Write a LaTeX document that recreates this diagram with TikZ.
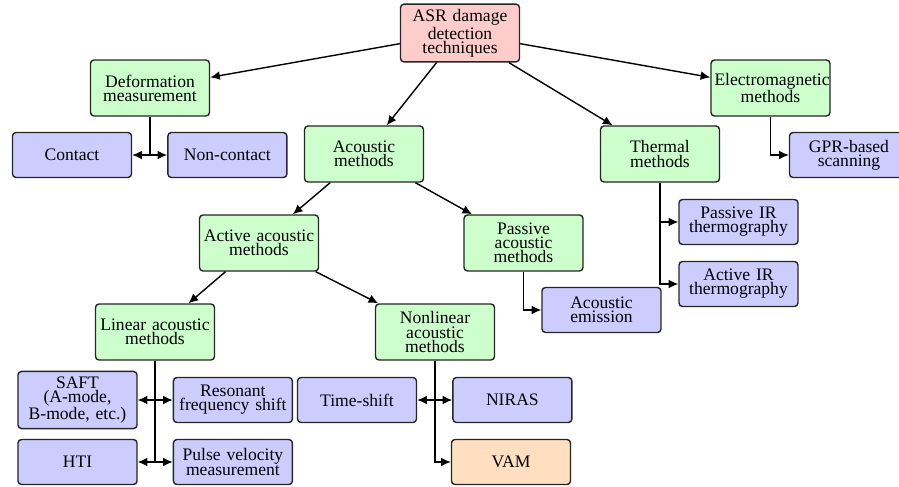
\documentclass[tikz,border=0pt]{standalone}
\usepackage{fontspec}
\setmainfont{Liberation Serif}
\usetikzlibrary{positioning, arrows.meta}

\begin{document}
\begin{tikzpicture}[
    >={Latex[length=5.5pt, width=5pt]},
    thick,
    arrow/.style={
        ->,
        thick
    },
    box/.style={
        rectangle,
        draw=black!85,
        rounded corners=2pt,
        thick,
        text width=2.24cm,
        inner xsep=0.07cm,
        inner ysep=0.1cm,
        align=center,
        font=\fontsize{10}{8}\selectfont
    },
    root/.style={
        box,
        fill=red!20,
        minimum height=1.12cm
    },
    group/.style={
        box,
        fill=green!20,
        minimum height=1.12cm
    },
    leaf/.style={
        box,
        fill=blue!20,
        minimum height=0.9cm
    },
    focus/.style={
        box,
        fill=orange!25,
        minimum height=0.9cm
    }
]
    \useasboundingbox (0,0) rectangle (17.98,-9.72);

    \node[root] (asr) at (9.2,-0.66) {ASR damage\\detection\\techniques};

    % First level
    \node[group] (deform) at (3.0,-1.76) {Deformation\\measurement};
    \node[group] (acoustic) at (7.28,-3.08) {Acoustic\\methods};
    \node[group] (thermal) at (13.2,-3.08) {Thermal\\methods};
    \node[group] (em) at (15.41,-1.76) {Electromagnetic methods};

    \draw[arrow] (asr) -- (deform);
    \draw[arrow] (asr) -- (acoustic);
    \draw[arrow] (asr) -- (thermal);
    \draw[arrow] (asr) -- (em);

    % Deformation
    \node[leaf] (contact) at (1.44,-3.1) {Contact};
    \node[leaf, right=0.7cm of contact] (noncontact) {Non-contact};
    \draw[arrow] (deform.south) |- (contact);
    \draw[arrow] (deform.south) |- (noncontact);

    % Electromagnetic
    \node[leaf] (gpr) at (16.98,-3.1) {GPR-based\\scanning};
    \draw[arrow] (em.south) |- (gpr);

    % Thermal
    \node[leaf] (pir) at (14.77,-4.44) {Passive IR\\thermography};
    \node[leaf] (air) at (14.77,-5.68) {Active IR\\thermography};
    \draw[arrow] (thermal.south) |- (pir);
    \draw[arrow] (thermal.south) |- (air);

    % Acoustic
    \node[group] (active) at (5.18,-4.86) {Active acoustic\\methods};
    \node[group] (passive) at (10.47,-4.86) {Passive\\acoustic\\methods};
    \draw[arrow] (acoustic) -- (active);
    \draw[arrow] (acoustic) -- (passive);

    \node[leaf] (emission) at (12.03,-6.2) {Acoustic\\emission};
    \draw[arrow] (passive.south) |- (emission);

    % Active acoustic
    \node[group] (linear) at (3.1,-6.64) {Linear acoustic\\methods};
    \node[group] (nonlinear) at (8.7,-6.64) {Nonlinear\\acoustic\\methods};
    \draw[arrow] (active) -- (linear);
    \draw[arrow] (active) -- (nonlinear);

    % Linear
    \node[leaf] (saft) at (1.55,-8.0) {SAFT\\(A-mode,\\B-mode, etc.)};
    \node[leaf, right=0.7cm of saft] (resonant) {Resonant\\frequency shift};
    \node[leaf] (hti) at (1.55,-9.24) {HTI};
    \node[leaf, right=0.7cm of hti] (pulse) {Pulse velocity\\measurement};
    \draw[arrow] (linear.south) |- (saft);
    \draw[arrow] (linear.south) |- (resonant);
    \draw[arrow] (linear.south) |- (hti);
    \draw[arrow] (linear.south) |- (pulse);

    % Nonlinear
    \node[leaf] (timeshift) at (7.14,-8.0) {Time-shift};
    \node[leaf, right=0.7cm of timeshift] (niras) {NIRAS};
    \node[focus] (vam) at (10.22,-9.24) {VAM};
    \draw[arrow] (nonlinear.south) |- (timeshift);
    \draw[arrow] (nonlinear.south) |- (niras);
    \draw[arrow] (nonlinear.south) |- (vam);

\end{tikzpicture}
\end{document}
